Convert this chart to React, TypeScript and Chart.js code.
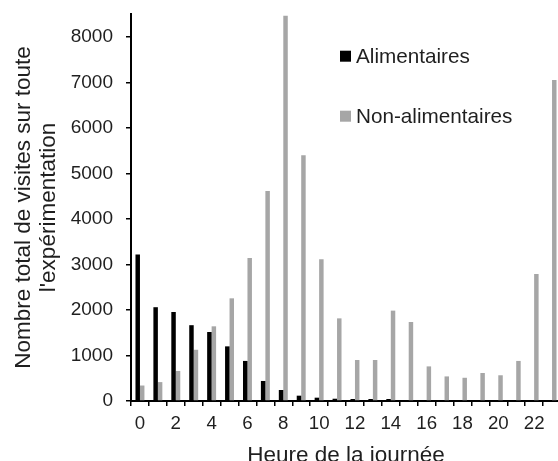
import React, { useEffect, useRef } from "react";
import { Chart, registerables } from "chart.js";

Chart.register(...registerables);

const hours = ["0","1","2","3","4","5","6","7","8","9","10","11","12","13","14","15","16","17","18","19","20","21","22","23"];
const alimentaires = [3220, 2060, 1955, 1665, 1515, 1200, 880, 440, 242, 117, 73, 50, 44, 44, 44, 0, 0, 0, 0, 0, 0, 0, 0, 0];
const nonAlimentaires = [340, 415, 660, 1125, 1640, 2255, 3140, 4610, 8460, 5400, 3115, 1815, 900, 900, 1985, 1735, 760, 540, 510, 615, 565, 880, 2790, 7050];
const yTickValues = [0, 1000, 2000, 3000, 4000, 5000, 6000, 7000, 8000];
const seriesLabels = ["Alimentaires", "Non-alimentaires"];
const seriesColors = ["#000000", "#a6a6a6"];
const yTitle = ["Nombre total de visites sur toute", "l'expérimentation"];
const xTitle = "Heure de la journée";

const FONT = '"Liberation Sans", Arial, sans-serif';
const TEXT = "#1f1f1f";

const sideLegend = {
  id: "sideLegend",
  afterDatasetsDraw(chart: any) {
    const { ctx, chartArea } = chart;
    const x0 = chartArea.left + 209;
    ctx.save();
    chart.data.datasets.forEach((ds: any, i: number) => {
      const top = chartArea.top + 36.7 + i * 60;
      ctx.fillStyle = ds.backgroundColor;
      ctx.fillRect(x0, top, 11, 11);
      ctx.fillStyle = TEXT;
      ctx.font = `20.7px ${FONT}`;
      ctx.textBaseline = "alphabetic";
      ctx.textAlign = "left";
      ctx.fillText(ds.label, x0 + 16, top + 12.6);
    });
    ctx.restore();
  },
};

export default function App() {
  const ref = useRef<HTMLCanvasElement | null>(null);
  useEffect(() => {
    if (!ref.current) return;
    const chart = new Chart(ref.current, {
      type: "bar",
      data: {
        labels: hours,
        datasets: [
          { label: seriesLabels[0], data: alimentaires, backgroundColor: seriesColors[0], borderWidth: 0, categoryPercentage: 0.5, barPercentage: 1 },
          { label: seriesLabels[1], data: nonAlimentaires, backgroundColor: seriesColors[1], borderWidth: 0, categoryPercentage: 0.5, barPercentage: 1 },
        ],
      },
      options: {
        responsive: false,
        animation: false,
        layout: { padding: { left: 0, top: 14, right: 1, bottom: 0 } },
        plugins: { legend: { display: false }, tooltip: { enabled: false } },
        scales: {
          x: {
            offset: true,
            grid: { offset: true, drawOnChartArea: false, drawTicks: true, tickLength: 5, color: "#000", lineWidth: 1.5 },
            border: { display: true, color: "#000", width: 2 },
            ticks: {
              autoSkip: false,
              maxRotation: 0,
              padding: 7,
              color: TEXT,
              font: { family: FONT, size: 18.7 },
              callback: (_v: any, i: number) => (i % 2 === 0 ? hours[i] : ""),
            },
            title: { display: true, text: xTitle, color: TEXT, font: { family: FONT, size: 22.5, lineHeight: 1.2 }, padding: { top: 0, bottom: 1 } },
            afterFit: (s: any) => { s.height = 69; s.paddingLeft = 0; s.paddingRight = 0; },
          },
          y: {
            min: 0,
            max: 8500,
            grid: { drawOnChartArea: false, drawTicks: true, tickLength: 5, color: "#000", lineWidth: 1.5 },
            border: { display: true, color: "#000", width: 2 },
            ticks: { autoSkip: false, padding: 13, color: TEXT, font: { family: FONT, size: 19 }, callback: (v: any) => String(v) },
            afterBuildTicks: (s: any) => { s.ticks = yTickValues.map((v) => ({ value: v })); },
            title: { display: true, text: yTitle, color: TEXT, font: { family: FONT, size: 22.5, lineHeight: 1.08 }, padding: { top: 12, bottom: 0 } },
            afterFit: (s: any) => { s.width = 131; s.paddingTop = 0; s.paddingBottom = 0; },
          },
        },
      },
      plugins: [sideLegend],
    });
    return () => chart.destroy();
  }, []);
  return (
    <div style={{ position: "fixed", left: 0, top: 0, width: 558, height: 461, overflow: "hidden", background: "#fff" }}>
      <canvas ref={ref} width={562} height={470} style={{ display: "block" }} />
    </div>
  );
}
